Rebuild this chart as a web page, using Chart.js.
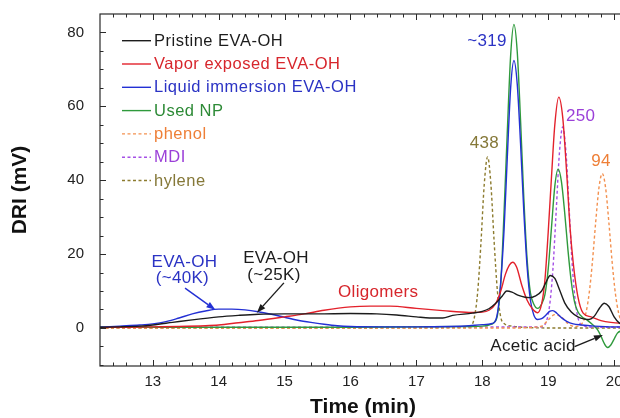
<!DOCTYPE html>
<html>
<head>
<meta charset="utf-8">
<title>DRI chromatogram</title>
<script src="https://cdn.jsdelivr.net/npm/chart.js@4.4.1/dist/chart.umd.min.js"></script>
<style>
  html, body { margin: 0; padding: 0; background: #fff; overflow: hidden; }
  #wrap { width: 620px; height: 418px; overflow: hidden; }
</style>
</head>
<body>
<div id="wrap"><canvas id="driChart" width="640" height="418"></canvas></div>
<script>
// Retention time (min) and DRI response (mV) for each trace
const pristineT   = [12.2, 12.5, 12.8, 13.0, 13.3, 13.6, 14.0, 14.3, 14.6, 15.0, 15.5, 16.0, 16.4, 16.7, 17.0, 17.2, 17.4, 17.55, 17.85, 18.0, 18.1, 18.2, 18.3, 18.37, 18.45, 18.55, 18.65, 18.72, 18.8, 18.9, 18.97, 19.03, 19.1, 19.17, 19.25, 19.35, 19.45, 19.55, 19.62, 19.7, 19.78, 19.85, 19.92, 20.0, 20.08, 20.2];
const pristineDRI = [0.2, 0.3, 0.5, 0.8, 1.5, 2.2, 3.0, 3.4, 3.7, 3.8, 3.8, 3.9, 3.8, 3.5, 3.0, 2.7, 2.7, 3.4, 4.0, 4.5, 5.2, 6.6, 8.6, 10.0, 9.7, 8.8, 8.3, 8.2, 8.6, 10.0, 12.5, 14.2, 13.4, 10.4, 6.8, 4.3, 3.0, 2.4, 2.3, 3.2, 5.4, 6.7, 5.8, 3.0, 1.3, 0.6];

const vaporT   = [12.2, 12.6, 13.0, 13.4, 13.8, 14.0, 14.3, 14.6, 15.0, 15.3, 15.6, 16.0, 16.3, 16.6, 17.0, 17.4, 17.8, 18.0, 18.1, 18.2, 18.28, 18.35, 18.41, 18.46, 18.52, 18.6, 18.68, 18.76, 18.84, 18.9, 18.95, 19.0, 19.05, 19.1, 19.16, 19.22, 19.28, 19.33, 19.38, 19.45, 19.53, 19.65, 19.8, 19.95, 20.2];
const vaporDRI = [0.1, 0.2, 0.3, 0.4, 0.6, 0.8, 1.4, 2.0, 3.0, 3.8, 4.8, 5.7, 5.9, 5.9, 5.3, 4.7, 4.2, 4.3, 4.8, 6.5, 10.0, 14.5, 17.0, 17.8, 16.5, 11.5, 7.5, 5.2, 4.1, 6.5, 13.0, 26.0, 41.0, 55.0, 62.5, 57.0, 42.0, 27.4, 17.5, 8.5, 4.0, 3.0, 2.0, 1.5, 1.2];

const liquidT   = [12.2, 12.5, 12.8, 13.0, 13.2, 13.4, 13.6, 13.8, 14.0, 14.2, 14.4, 14.6, 14.8, 15.0, 15.2, 15.4, 15.6, 15.8, 16.0, 16.5, 17.0, 17.5, 17.8, 18.0, 18.15, 18.23, 18.28, 18.33, 18.38, 18.43, 18.48, 18.53, 18.58, 18.63, 18.68, 18.73, 18.78, 18.84, 18.9, 18.96, 19.02, 19.07, 19.13, 19.2, 19.28, 19.38, 19.5, 19.7, 20.0, 20.2];
const liquidDRI = [0.2, 0.5, 0.8, 1.1, 1.7, 2.7, 3.8, 4.6, 5.1, 5.1, 4.9, 4.4, 3.7, 2.9, 2.1, 1.5, 1.0, 0.6, 0.4, 0.3, 0.3, 0.4, 0.6, 0.9, 1.2, 4.0, 12.5, 26.5, 46.5, 65.0, 72.4, 66.0, 50.0, 31.5, 16.5, 7.5, 3.6, 2.3, 2.5, 3.4, 4.5, 4.7, 4.0, 2.8, 1.8, 1.1, 0.8, 0.5, 0.3, 0.3];

const usedNpT   = [12.2, 14.0, 16.0, 17.0, 17.8, 18.0, 18.1, 18.18, 18.23, 18.28, 18.33, 18.38, 18.43, 18.48, 18.53, 18.58, 18.63, 18.68, 18.73, 18.78, 18.84, 18.9, 18.95, 19.0, 19.05, 19.1, 19.15, 19.2, 19.25, 19.3, 19.35, 19.4, 19.45, 19.52, 19.6, 19.68, 19.75, 19.8, 19.85, 19.9, 19.95, 20.0, 20.05, 20.1, 20.2];
const usedNpDRI = [0.2, 0.2, 0.2, 0.3, 0.4, 0.5, 0.8, 1.5, 3.5, 12.0, 31.3, 53.5, 73.8, 82.2, 74.8, 56.3, 35.1, 18.5, 9.5, 6.5, 5.3, 6.5, 9.0, 16.0, 27.3, 38.4, 43.0, 39.7, 31.2, 21.0, 12.5, 7.0, 4.4, 2.9, 2.0, 0.8, -0.5, -2.2, -4.2, -5.3, -4.6, -3.0, -1.4, -0.8, -0.5];

const phenolT   = [12.2, 16.0, 18.5, 18.9, 19.0, 19.1, 19.2, 19.3, 19.4, 19.52, 19.57, 19.62, 19.67, 19.72, 19.77, 19.82, 19.87, 19.92, 19.97, 20.02, 20.07, 20.12, 20.2];
const phenolDRI = [0, 0, 0, 0.5, 2.2, 3.6, 3.0, 1.2, 0.4, 1.4, 3.9, 9.2, 17.8, 28.6, 38.0, 41.8, 38.0, 28.6, 17.8, 9.2, 3.9, 1.4, 0.3];

const mdiT   = [12.2, 16.0, 18.9, 18.97, 19.02, 19.07, 19.12, 19.17, 19.22, 19.27, 19.32, 19.37, 19.42, 19.47, 19.55, 19.7, 20.2];
const mdiDRI = [0.2, 0.2, 0.3, 1.7, 5.9, 15.6, 31.3, 47.4, 54.4, 47.4, 31.3, 15.6, 5.9, 1.7, 0.5, 0.2, 0.2];

const hyleneT   = [12.2, 16.0, 17.7, 17.83, 17.88, 17.93, 17.98, 18.03, 18.08, 18.13, 18.18, 18.23, 18.28, 18.33, 18.45, 18.6, 19.0, 20.2];
const hyleneDRI = [0, 0, 0.1, 0.6, 2.9, 9.8, 23.2, 39.0, 46.3, 39.0, 23.2, 9.8, 2.9, 1.2, 0.5, 0.2, 0, 0];

const traceNames = ['Pristine EVA-OH', 'Vapor exposed EVA-OH', 'Liquid immersion EVA-OH', 'Used NP', 'phenol', 'MDI', 'hylene'];

const timeTicks = [13, 14, 15, 16, 17, 18, 19, 20];
const driTicks = [0, 20, 40, 60, 80];

const FONT = '"Liberation Sans", Arial, Helvetica, sans-serif';
const DASH = [3, 2.5];

function toPoints(t, v) {
    return t.map((x, i) => ({ x: x, y: v[i] }));
}

function trace(name, t, v, line, text, dashed) {
    return {
        label: name,
        data: toPoints(t, v),
        borderColor: line,
        labelColor: text,
        borderWidth: 1.4,
        borderDash: dashed ? DASH : [],
        pointRadius: 0,
        cubicInterpolationMode: 'monotone',
        fill: false
    };
}

// Peak / region labels and arrows, placed in data units
const notes = [
    { text: '~319', x: 18.07, y: 77.7, color: '#2b33c4' },
    { text: '438', x: 18.03, y: 50.1, color: '#857838' },
    { text: '250', x: 19.49, y: 57.2, color: '#9b3fd8' },
    { text: '94', x: 19.80, y: 45.0, color: '#ee7f37' },
    { text: 'EVA-OH', x: 13.48, y: 17.8, color: '#2b33c4' },
    { text: '(~40K)', x: 13.45, y: 13.5, color: '#2b33c4' },
    { text: 'EVA-OH', x: 14.87, y: 18.9, color: '#1c1c1c' },
    { text: '(~25K)', x: 14.84, y: 14.3, color: '#1c1c1c' },
    { text: 'Oligomers', x: 16.42, y: 9.7, color: '#d7262c' },
    { text: 'Acetic acid', x: 18.77, y: -5.0, color: '#1c1c1c' }
];
const arrows = [
    { from: [13.49, 10.8], to: [13.95, 4.9], color: '#2330d4' },
    { from: [14.99, 12.2], to: [14.58, 4.1], color: '#1c1c1c' },
    { from: [19.40, -5.05], to: [19.83, -1.9], color: '#1c1c1c' }
];

// Box frame with inward major/minor ticks on all sides
const frameTicks = {
    id: 'frameTicks',
    afterDraw(chart) {
        const { ctx, chartArea: a, scales: { x, y } } = chart;
        ctx.save();
        ctx.strokeStyle = '#2a2a2a';
        ctx.lineWidth = 1.2;
        ctx.strokeRect(a.left, a.top, a.right - a.left, a.bottom - a.top);
        ctx.lineWidth = 1;
        ctx.beginPath();
        for (let i = 60; i <= 102; i++) {
            const v = i / 5;
            if (v <= x.min || v >= x.max) continue;
            const px = Math.round(x.getPixelForValue(v)) + 0.5;
            const len = i % 5 === 0 ? 6 : 3.5;
            ctx.moveTo(px, a.bottom); ctx.lineTo(px, a.bottom - len);
            ctx.moveTo(px, a.top); ctx.lineTo(px, a.top + len);
        }
        for (let v = -10; v <= 85; v += 5) {
            if (v <= y.min || v >= y.max) continue;
            const py = Math.round(y.getPixelForValue(v)) + 0.5;
            const len = v % 20 === 0 ? 6 : 3.5;
            ctx.moveTo(a.left, py); ctx.lineTo(a.left + len, py);
            ctx.moveTo(a.right, py); ctx.lineTo(a.right - len, py);
        }
        ctx.stroke();
        ctx.restore();
    }
};

// Legend drawn inside the plot, top left
const insetLegend = {
    id: 'insetLegend',
    afterDatasetsDraw(chart) {
        const { ctx, chartArea: a } = chart;
        ctx.save();
        ctx.font = '16.5px ' + FONT;
        ctx.letterSpacing = '0.5px';
        ctx.textBaseline = 'middle';
        ctx.textAlign = 'left';
        chart.data.datasets.forEach((ds, i) => {
            const yy = a.top + 26.7 + i * 23.3;
            const x0 = a.left + 22;
            ctx.strokeStyle = ds.borderColor;
            ctx.lineWidth = 1.4;
            ctx.setLineDash(ds.borderDash);
            ctx.beginPath();
            ctx.moveTo(x0, yy);
            ctx.lineTo(x0 + 29, yy);
            ctx.stroke();
            ctx.fillStyle = ds.labelColor;
            ctx.fillText(ds.label, x0 + 32, yy + 0.5);
        });
        ctx.restore();
    }
};

const annotations = {
    id: 'annotations',
    afterDatasetsDraw(chart) {
        const { ctx, scales: { x, y } } = chart;
        ctx.save();
        ctx.font = '17px ' + FONT;
        ctx.letterSpacing = '0.3px';
        ctx.textAlign = 'center';
        ctx.textBaseline = 'middle';
        notes.forEach(n => {
            ctx.fillStyle = n.color;
            ctx.fillText(n.text, x.getPixelForValue(n.x), y.getPixelForValue(n.y));
        });
        arrows.forEach(ar => {
            const x1 = x.getPixelForValue(ar.from[0]), y1 = y.getPixelForValue(ar.from[1]);
            const x2 = x.getPixelForValue(ar.to[0]), y2 = y.getPixelForValue(ar.to[1]);
            const ang = Math.atan2(y2 - y1, x2 - x1);
            const head = 9, half = 3.2;
            ctx.strokeStyle = ar.color;
            ctx.fillStyle = ar.color;
            ctx.lineWidth = 1.4;
            ctx.beginPath();
            ctx.moveTo(x1, y1);
            ctx.lineTo(x2 - head * Math.cos(ang), y2 - head * Math.sin(ang));
            ctx.stroke();
            ctx.beginPath();
            ctx.moveTo(x2, y2);
            ctx.lineTo(x2 - head * Math.cos(ang) + half * Math.sin(ang), y2 - head * Math.sin(ang) - half * Math.cos(ang));
            ctx.lineTo(x2 - head * Math.cos(ang) - half * Math.sin(ang), y2 - head * Math.sin(ang) + half * Math.cos(ang));
            ctx.closePath();
            ctx.fill();
        });
        ctx.restore();
    }
};

new Chart(document.getElementById('driChart'), {
    type: 'line',
    data: {
        datasets: [
            trace(traceNames[0], pristineT, pristineDRI, '#1c1c1c', '#1c1c1c', false),
            trace(traceNames[1], vaporT, vaporDRI, '#e3212b', '#d7262c', false),
            trace(traceNames[2], liquidT, liquidDRI, '#2330d4', '#2b33c4', false),
            trace(traceNames[3], usedNpT, usedNpDRI, '#2f9a3c', '#2d8a36', false),
            trace(traceNames[4], phenolT, phenolDRI, '#f39150', '#ee7f37', true),
            trace(traceNames[5], mdiT, mdiDRI, '#a550e6', '#9b3fd8', true),
            trace(traceNames[6], hyleneT, hyleneDRI, '#8c7b2e', '#857838', true)
        ]
    },
    options: {
        responsive: false,
        animation: false,
        layout: { padding: { top: 14, right: 14, left: 0, bottom: 0 } },
        plugins: {
            legend: { display: false },
            tooltip: { enabled: false }
        },
        scales: {
            x: {
                type: 'linear',
                min: 12.2,
                max: 20.18,
                grid: { display: false, drawTicks: false },
                border: { display: false },
                afterBuildTicks: s => { s.ticks = timeTicks.map(v => ({ value: v })); },
                afterFit: s => { s.height = 52; },
                ticks: {
                    autoSkip: false,
                    maxRotation: 0,
                    padding: 7,
                    color: '#222',
                    font: { family: FONT, size: 15 }
                },
                title: {
                    display: true,
                    text: 'Time (min)',
                    color: '#111',
                    padding: { top: 0, bottom: 0.5 },
                    font: { family: FONT, size: 21, weight: 'bold', lineHeight: 1 }
                }
            },
            y: {
                type: 'linear',
                min: -10.3,
                max: 85,
                grid: { display: false, drawTicks: false },
                border: { display: false },
                afterBuildTicks: s => { s.ticks = driTicks.map(v => ({ value: v })); },
                afterFit: s => {
                    s.width = 100;
                    // keep the plot top/bottom fixed by the layout padding alone
                    s.paddingTop = 0;
                    s.paddingBottom = 0;
                },
                ticks: {
                    padding: 16,
                    color: '#222',
                    font: { family: FONT, size: 15 }
                },
                title: {
                    display: true,
                    text: 'DRI (mV)',
                    color: '#111',
                    padding: { top: 10, bottom: 0 },
                    font: { family: FONT, size: 21, weight: 'bold', lineHeight: 1 }
                }
            }
        }
    },
    plugins: [frameTicks, insetLegend, annotations]
});
</script>
</body>
</html>
